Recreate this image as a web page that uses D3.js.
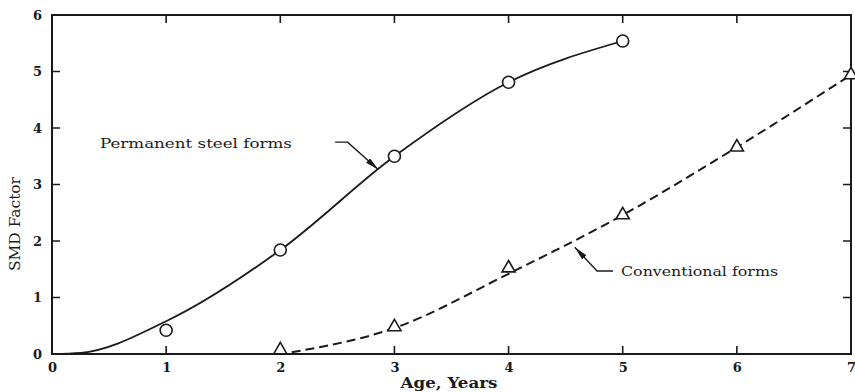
<!DOCTYPE html>
<html>
<head>
<meta charset="utf-8">
<script src="https://cdn.jsdelivr.net/npm/d3@7"></script>
<style>
  body { margin: 0; background: #fff; }
  svg { display: block; }
  text { font-family: "DejaVu Serif", "Liberation Serif", serif; fill: #1a1a1a; }
</style>
</head>
<body>
<div id="chart"></div>
<script>
// measured points
const steelAge = [1, 2, 3, 4, 5];
const steelSmd = [0.42, 1.84, 3.5, 4.81, 5.54];
const convAge = [2, 3, 4, 5, 6, 7];
const convSmd = [0.07, 0.48, 1.52, 2.46, 3.66, 4.94];

// hand-drawn fitted curves
const steelFitAge = [0, 0.25, 1, 2, 3, 4, 5];
const steelFitSmd = [0, 0.02, 0.58, 1.84, 3.5, 4.81, 5.54];
const convFitAge = [2.1, 3, 4, 5, 6, 7];
const convFitSmd = [0.03, 0.46, 1.42, 2.46, 3.66, 4.94];

const xTicks = [0, 1, 2, 3, 4, 5, 6, 7];
const yTicks = [0, 1, 2, 3, 4, 5, 6];

const width = 855, height = 392;
const x = d3.scaleLinear().domain([0, 7]).range([52, 851]);
const y = d3.scaleLinear().domain([0, 6]).range([354, 15]);

const svg = d3.select("#chart").append("svg")
    .attr("width", width)
    .attr("height", height);

svg.append("defs").append("marker")
    .attr("id", "arrow")
    .attr("viewBox", "0 0 14 6")
    .attr("refX", 14).attr("refY", 3)
    .attr("markerWidth", 14).attr("markerHeight", 6)
    .attr("markerUnits", "userSpaceOnUse")
    .attr("orient", "auto")
    .append("path")
    .attr("d", "M0,0 L14,3 L0,6 Z")
    .attr("fill", "#1a1a1a");

// axes: labels only, ticks drawn as paths below
const labelStyle = g => {
    g.select(".domain").remove();
    g.selectAll(".tick line").remove();
    g.selectAll(".tick text")
        .style("font-family", "'DejaVu Serif', serif")
        .style("font-weight", "bold")
        .style("font-size", "13px")
        .attr("fill", "#1a1a1a");
};

svg.append("g")
    .attr("transform", `translate(0,${y(0)})`)
    .call(d3.axisBottom(x).tickValues(xTicks).tickFormat(d3.format("d"))
        .tickSize(0).tickPadding(9))
    .call(labelStyle);

svg.append("g")
    .attr("transform", `translate(${x(0)},0)`)
    .call(d3.axisLeft(y).tickValues(yTicks).tickFormat(d3.format("d"))
        .tickSize(0).tickPadding(10))
    .call(labelStyle);

// frame box
const corners = [[0, 0], [7, 0], [7, 6], [0, 6]];
svg.append("path")
    .attr("d", d3.line().x(d => x(d[0])).y(d => y(d[1]))(corners) + "Z")
    .attr("fill", "none").style("stroke", "#1a1a1a").style("stroke-width", "2px");

// inward tick marks on all four sides
const tickLen = 8;
const tickPath = [];
xTicks.slice(1, -1).forEach(t => {
    tickPath.push(`M${x(t)},${y(0)}v${-tickLen}`);
    tickPath.push(`M${x(t)},${y(6)}v${tickLen}`);
});
yTicks.slice(1, -1).forEach(t => {
    tickPath.push(`M${x(0)},${y(t)}h${tickLen}`);
    tickPath.push(`M${x(7)},${y(t)}h${-tickLen}`);
});
svg.append("path")
    .attr("d", tickPath.join(""))
    .attr("fill", "none").style("stroke", "#1a1a1a").style("stroke-width", "1.6px");

// axis titles
svg.append("text")
    .attr("x", 449).attr("y", 388)
    .attr("text-anchor", "middle")
    .attr("textLength", 97).attr("lengthAdjust", "spacingAndGlyphs")
    .style("font-weight", "bold").style("font-size", "14px")
    .text("Age, Years");

svg.append("text")
    .attr("transform", "translate(20,224) rotate(-90)")
    .attr("text-anchor", "middle")
    .attr("textLength", 94).attr("lengthAdjust", "spacingAndGlyphs")
    .style("font-size", "14px")
    .text("SMD Factor");

// curves
const line = d3.line()
    .x(d => x(d[0]))
    .y(d => y(d[1]))
    .curve(d3.curveMonotoneX);

svg.append("path")
    .datum(d3.zip(steelFitAge, steelFitSmd))
    .attr("d", line)
    .attr("fill", "none").attr("stroke", "#1a1a1a").attr("stroke-width", 1.8);

svg.append("path")
    .datum(d3.zip(convFitAge, convFitSmd))
    .attr("d", line)
    .attr("fill", "none").attr("stroke", "#1a1a1a").attr("stroke-width", 2)
    .attr("stroke-dasharray", "9,5");

// markers
svg.append("g").selectAll("circle")
    .data(d3.zip(steelAge, steelSmd))
    .join("circle")
    .attr("cx", d => x(d[0])).attr("cy", d => y(d[1]))
    .attr("r", 6)
    .attr("fill", "#fff").attr("stroke", "#1a1a1a").attr("stroke-width", 1.6);

const tri = d3.symbol().type(d3.symbolTriangle).size(75);
svg.append("g").selectAll("path")
    .data(d3.zip(convAge, convSmd))
    .join("path")
    .attr("d", tri)
    .attr("transform", d => `translate(${x(d[0])},${y(d[1])})`)
    .attr("fill", "#fff").attr("stroke", "#1a1a1a").attr("stroke-width", 1.6);

// labels with leader arrows (data units)
const labels = [
    { text: "Permanent steel forms", at: [0.42, 3.65], len: 192,
      leader: [[2.48, 3.75], [2.59, 3.75], [2.86, 3.26]] },
    { text: "Conventional forms", at: [4.985, 1.38], len: 157,
      leader: [[4.915, 1.47], [4.775, 1.47], [4.58, 1.89]] }
];

labels.forEach(l => {
    svg.append("text")
        .attr("x", x(l.at[0])).attr("y", y(l.at[1]))
        .attr("textLength", l.len).attr("lengthAdjust", "spacingAndGlyphs")
        .style("font-size", "13px")
        .text(l.text);
    svg.append("path")
        .datum(l.leader)
        .attr("d", d3.line().x(d => x(d[0])).y(d => y(d[1])))
        .attr("fill", "none").attr("stroke", "#1a1a1a").attr("stroke-width", 1.4)
        .attr("marker-end", "url(#arrow)");
});
</script>
</body>
</html>
